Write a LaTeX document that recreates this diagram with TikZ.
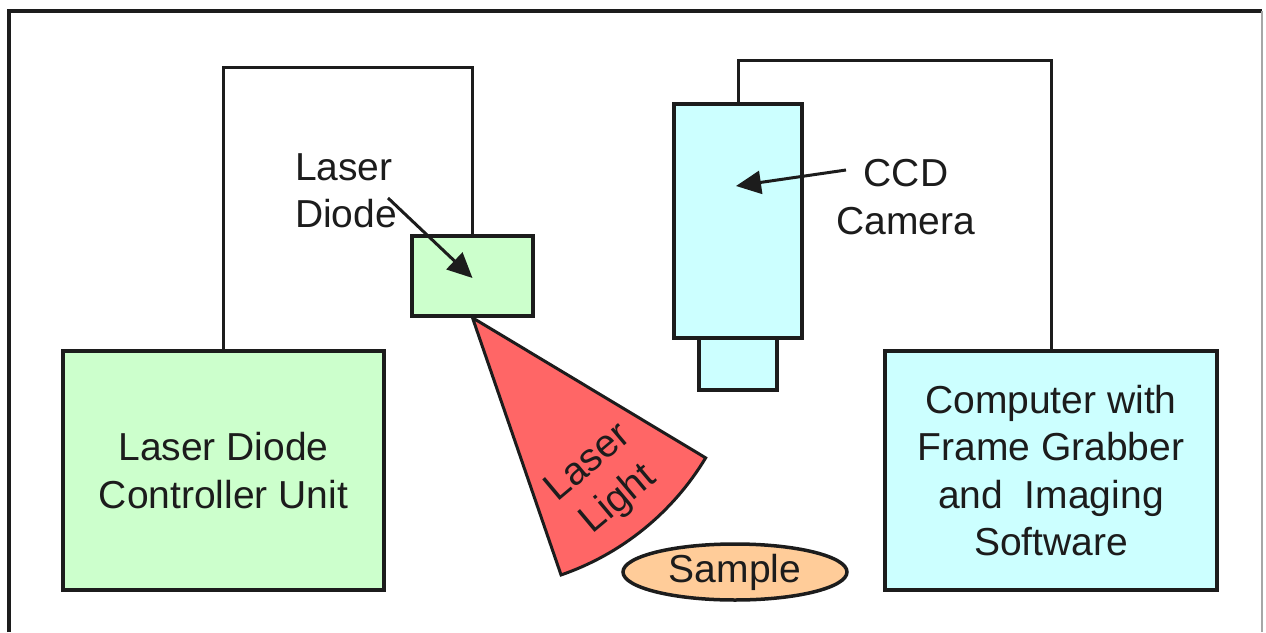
\documentclass[tikz,border=0pt]{standalone}
\usepackage{fontspec}
\setmainfont{Liberation Sans}
\usetikzlibrary{arrows.meta,positioning,shapes.geometric}
\definecolor{boxgreen}{RGB}{204,255,204}
\definecolor{boxcyan}{RGB}{204,255,255}
\definecolor{beamred}{RGB}{255,102,102}
\definecolor{samplepeach}{RGB}{255,204,153}
\definecolor{ink}{RGB}{28,28,28}
\tikzset{
  unit/.style={draw=ink,line width=3.5pt,align=center,inner sep=0pt,text=ink},
  wire/.style={draw=ink,line width=3pt},
  pointer/.style={-{Triangle[length=25pt,width=23pt]},line width=3pt,draw=ink,fill=ink},
  tag/.style={align=center,text=ink,inner sep=0pt}
}

\begin{document}
\begin{tikzpicture}[x=1pt,y=1pt,font=\fontsize{39}{47.5}\selectfont]
  \useasboundingbox (0,0) rectangle (1266,-632);
  % frame
  \draw[ink,line width=4pt] (9,-632) -- (9,-11) -- (1262,-11);
  \draw[gray!70,line width=2pt] (1262,-11) -- (1262,-632);

  \node[unit,fill=boxgreen,minimum width=321pt,minimum height=239pt] (ctrl) at (223.5,-470.5) {Laser Diode\\Controller Unit};
  \node[unit,fill=boxgreen,minimum width=121pt,minimum height=80pt] (diode) at (472.5,-276) {};
  \node[unit,fill=boxcyan,minimum width=128pt,minimum height=234pt] (cam) at (738,-221) {};
  \node[unit,fill=boxcyan,minimum width=78pt,minimum height=52pt,below=-3.5pt of cam] (lens) {};
  \node[unit,fill=boxcyan,minimum width=332pt,minimum height=239pt] (pc) at (1051,-470.5) {Computer with\\Frame Grabber\\and~ Imaging\\Software};
  \node[unit,ellipse,fill=samplepeach,minimum width=224pt,minimum height=56pt] (sample) at (735,-572) {Sample};

  % laser light
  \draw[ink,line width=3pt,fill=beamred,line join=miter] (diode.south) -- ++(-71:272) arc[start angle=-71,end angle=-31,radius=272] -- cycle;
  \node[tag,rotate=40] (light) at (604,-482) {Laser\\Light};

  % wires
  \draw[wire] (ctrl.north) -- (ctrl.north |- 0,-67) -| (diode.north);
  \draw[wire] (cam.north) -- (cam.north |- 0,-60) -| (pc.north);

  % labels
  \node[tag,align=left] (ldlabel) at (346,-191) {Laser\\Diode};
  \node[tag] (ccdlabel) at (906,-197) {CCD\\Camera};
  \coordinate (ldtail) at (388,-198);
  \coordinate (ccdtail) at (846,-170);
  \draw[pointer] (ldtail) -- ([yshift=-2pt]diode.center);
  \draw[pointer] (ccdtail) -- ([xshift=-2pt,yshift=35pt]cam.center);
\end{tikzpicture}
\end{document}
